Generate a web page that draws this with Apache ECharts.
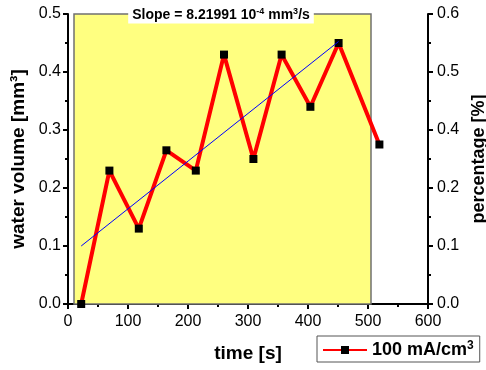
<!DOCTYPE html>
<html>
<head>
<meta charset="utf-8">
<script src="https://cdn.jsdelivr.net/npm/echarts@6/dist/echarts.min.js"></script>
<style>html,body{margin:0;padding:0;background:#fff}#c{width:486px;height:370px}</style>
</head>
<body>
<div id="c"></div>
<script>
// data
const timeS = [22, 69, 118, 164, 213, 260, 309, 356, 404, 451, 519];
const waterVolume = [0.0, 0.23, 0.13, 0.265, 0.23, 0.43, 0.25, 0.43, 0.34, 0.45, 0.275];
const fitX = [22, 451];
const fitY = [0.1, 0.4526];
const shadeX = [10, 505];
const shadeY = [0, 0.5];
const seriesName = '100 mA/cm3';
const slopeText = ['Slope = 8.21991 10', '-4', ' mm', '3', '/s'];
const leftTickLabels = ['0.0', '0.1', '0.2', '0.3', '0.4', '0.5'];
const rightTickLabels = ['0.0', '0.1', '0.2', '0.4', '0.5', '0.6'];
const xTickLabels = ['0', '100', '200', '300', '400', '500', '600'];

const FF = '"Liberation Sans", Arial, sans-serif';
const chart = echarts.init(document.getElementById('c'), null, {renderer: 'canvas'});
const axisCommon = {
  axisLine: {show: true, lineStyle: {color: '#000', width: 2}},
  axisTick: {show: true, inside: false, length: 5, lineStyle: {color: '#000', width: 2}},
  minorTick: {show: true, splitNumber: 2, length: 3, lineStyle: {color: '#000', width: 2}},
  splitLine: {show: false},
  nameTextStyle: {fontFamily: FF, fontWeight: 'bold', fontSize: 19, color: '#000'}
};
chart.setOption({
  animation: false,
  grid: {left: 68, right: 58, top: 14, bottom: 66, containLabel: false, outerBoundsMode: 'none'},
  xAxis: Object.assign({}, axisCommon, {
    type: 'value', min: 0, max: 600, interval: 100,
    name: 'time [s]', nameLocation: 'middle', nameGap: 40,
    axisLabel: {fontFamily: FF, fontSize: 16, color: '#000', margin: 10, formatter: (v, i) => xTickLabels[i]}
  }),
  yAxis: [
    Object.assign({}, axisCommon, {
      type: 'value', min: 0, max: 0.5, interval: 0.1, position: 'left',
      name: 'water volume [mm³]', nameLocation: 'middle', nameGap: 40, nameRotate: 90,
      axisLabel: {fontFamily: FF, fontSize: 16, color: '#000', margin: 7, formatter: (v, i) => leftTickLabels[i]}
    }),
    Object.assign({}, axisCommon, {
      type: 'value', min: 0, max: 0.6, interval: 0.12, position: 'right',
      name: 'percentage [%]', nameLocation: 'middle', nameGap: 36, nameRotate: 90,
      nameTextStyle: {fontFamily: FF, fontWeight: 'bold', fontSize: 18, color: '#000'},
      axisLabel: {fontFamily: FF, fontSize: 16, color: '#000', margin: 9, formatter: (v, i) => rightTickLabels[i]}
    })
  ],
  legend: {
    left: 317, top: 336, orient: 'horizontal',
    data: [seriesName],
    borderColor: '#555', borderWidth: 1, padding: [4, 6, 3, 5],
    itemWidth: 44, itemHeight: 10, itemGap: 0,
    formatter: () => '{a|100 mA/cm}{s|3}',
    textStyle: {
      fontFamily: FF, fontWeight: 'bold', fontSize: 18, color: '#000',
      rich: {
        a: {fontFamily: FF, fontWeight: 'bold', fontSize: 18, color: '#000'},
        s: {fontFamily: FF, fontWeight: 'bold', fontSize: 12, color: '#000', verticalAlign: 'top', padding: [0, 0, 8, 0]}
      }
    }
  },
  series: [
    {
      name: 'fit', type: 'line', yAxisIndex: 0,
      data: fitX.map((x, i) => [x, fitY[i]]),
      showSymbol: false, symbol: 'none',
      lineStyle: {color: '#0000ff', width: 1},
      z: 3,
      markArea: {
        silent: true,
        itemStyle: {color: '#ffff80', borderColor: '#707070', borderWidth: 1.5},
        data: [[{coord: [shadeX[0], shadeY[0]]}, {coord: [shadeX[1], shadeY[1]]}]]
      }
    },
    {
      name: seriesName, type: 'line', yAxisIndex: 0,
      data: timeS.map((x, i) => [x, waterVolume[i]]),
      symbol: 'rect', symbolSize: 8, showSymbol: true,
      lineStyle: {color: '#ff0000', width: 4},
      itemStyle: {color: '#000'},
      z: 2
    }
  ],
  graphic: [{
    type: 'text', x: 221, y: 15, z: 10,
    style: {
      text: '{a|' + slopeText[0] + '}{s|' + slopeText[1] + '}{a|' + slopeText[2] + '}{s|' + slopeText[3] + '}{a|' + slopeText[4] + '}',
      align: 'center', verticalAlign: 'middle',
      backgroundColor: '#fff', padding: [1, 4, 1, 4],
      rich: {
        a: {fontFamily: FF, fontWeight: 'bold', fontSize: 14, fill: '#000'},
        s: {fontFamily: FF, fontWeight: 'bold', fontSize: 9, fill: '#000', verticalAlign: 'top', padding: [0, 0, 6, 0]}
      }
    }
  }]
});
</script>
</body>
</html>
